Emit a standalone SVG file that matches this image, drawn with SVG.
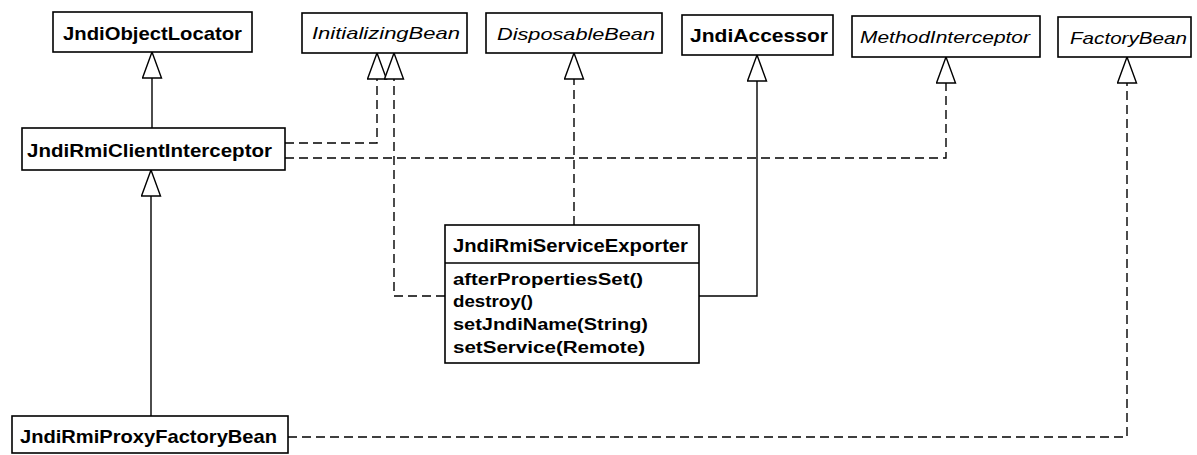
<svg xmlns="http://www.w3.org/2000/svg" width="1197" height="455" viewBox="0 0 1197 455">
<style>
.box{fill:#fff;stroke:#000;stroke-width:1.6}
.cls{font-family:"Liberation Sans",Arial,sans-serif;font-weight:bold;font-size:19px;fill:#000}
.ifc{font-family:"Liberation Sans",Arial,sans-serif;font-style:italic;font-size:17px;fill:#000}
.mth{font-family:"Liberation Sans",Arial,sans-serif;font-weight:bold;font-size:16px;fill:#000}
.ln{fill:none;stroke:#000;stroke-width:1.4}
.dash{stroke-dasharray:9 5}
</style>
<defs>
<marker id="tri" markerUnits="userSpaceOnUse" markerWidth="30" markerHeight="22" viewBox="-1 -1 29 22" refX="26" refY="9.5" orient="auto">
<path d="M0,0 L26,9.5 L0,19 Z" fill="#fff" stroke="#000" stroke-width="1.4"/>
</marker>
</defs>
<rect width="1197" height="455" fill="#fff"/>
<g id="connectors">
<path class="ln" d="M152,128 V52" marker-end="url(#tri)"/>
<path class="ln" d="M151,416 V170" marker-end="url(#tri)"/>
<path class="ln dash" d="M285,143 H377 V53" marker-end="url(#tri)"/>
<path class="ln dash" d="M285,158 H946 V57" marker-end="url(#tri)"/>
<path class="ln dash" d="M445,296 H394 V53" marker-end="url(#tri)"/>
<path class="ln dash" d="M574,225 V53" marker-end="url(#tri)"/>
<path class="ln" d="M699,296 H757 V55" marker-end="url(#tri)"/>
<path class="ln dash" d="M288,437 H1127 V57" marker-end="url(#tri)"/>
</g>
<g id="JndiObjectLocator">
<rect class="box" x="53" y="12" width="199" height="40"/>
<text class="cls" x="63" y="40" textLength="179" lengthAdjust="spacingAndGlyphs">JndiObjectLocator</text>
</g>
<g id="InitializingBean">
<rect class="box" x="302" y="13" width="165" height="40"/>
<text class="ifc" x="312" y="39" textLength="148" lengthAdjust="spacingAndGlyphs">InitializingBean</text>
</g>
<g id="DisposableBean">
<rect class="box" x="486" y="13" width="176" height="40"/>
<text class="ifc" x="497" y="40" textLength="158" lengthAdjust="spacingAndGlyphs">DisposableBean</text>
</g>
<g id="JndiAccessor">
<rect class="box" x="682" y="15" width="151" height="40"/>
<text class="cls" x="690" y="42" textLength="138" lengthAdjust="spacingAndGlyphs">JndiAccessor</text>
</g>
<g id="MethodInterceptor">
<rect class="box" x="852" y="16" width="188" height="41"/>
<text class="ifc" x="860" y="43" textLength="170" lengthAdjust="spacingAndGlyphs">MethodInterceptor</text>
</g>
<g id="FactoryBean">
<rect class="box" x="1058" y="17" width="133" height="40"/>
<text class="ifc" x="1070" y="44" textLength="117" lengthAdjust="spacingAndGlyphs">FactoryBean</text>
</g>
<g id="JndiRmiClientInterceptor">
<rect class="box" x="22" y="128" width="263" height="42"/>
<text class="cls" x="27" y="157" textLength="245" lengthAdjust="spacingAndGlyphs">JndiRmiClientInterceptor</text>
</g>
<g id="JndiRmiServiceExporter">
<rect class="box" x="445" y="225" width="254" height="138"/>
<line x1="445" y1="263" x2="699" y2="263" stroke="#000" stroke-width="1.4"/>
<text class="cls" x="453" y="252" font-size="18" textLength="235" lengthAdjust="spacingAndGlyphs">JndiRmiServiceExporter</text>
<text class="mth" x="453" y="285" textLength="190" lengthAdjust="spacingAndGlyphs">afterPropertiesSet()</text>
<text class="mth" x="453" y="307" textLength="80" lengthAdjust="spacingAndGlyphs">destroy()</text>
<text class="mth" x="453" y="330" textLength="195" lengthAdjust="spacingAndGlyphs">setJndiName(String)</text>
<text class="mth" x="453" y="353" textLength="192" lengthAdjust="spacingAndGlyphs">setService(Remote)</text>
</g>
<g id="JndiRmiProxyFactoryBean">
<rect class="box" x="12" y="416" width="276" height="37"/>
<text class="cls" x="20" y="443" textLength="257" lengthAdjust="spacingAndGlyphs">JndiRmiProxyFactoryBean</text>
</g>
</svg>
